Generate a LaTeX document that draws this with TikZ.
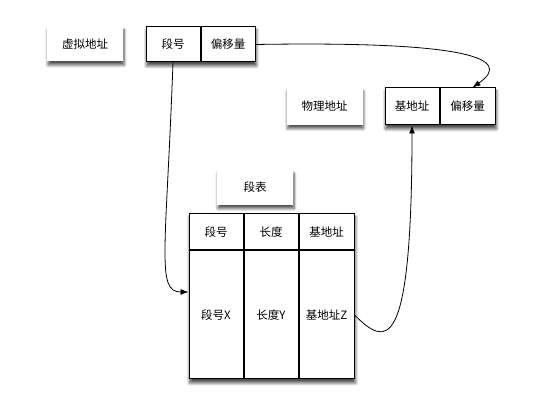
\documentclass[tikz,border=0pt]{standalone}
\usepackage{fontspec}
\newfontfamily\cjk{Noto Sans CJK SC}
\usepackage{tikz}
\usetikzlibrary{arrows.meta, positioning, fit, backgrounds, shadows.blur}

\begin{document}
\begin{tikzpicture}[x=1pt, y=1pt, font=\cjk\fontsize{11.5}{14}\selectfont,
  sh/.style={blur shadow={shadow xshift=1pt, shadow yshift=-3.5pt,
             shadow blur radius=3pt, shadow blur steps=6, shadow opacity=70}},
  lb/.style={rectangle, fill=white, minimum width=76pt, minimum height=35pt, sh},
  cl/.style={rectangle, draw=black, line width=1pt, fill=white,
             minimum width=54pt, minimum height=35pt, inner sep=1pt},
  fr/.style={rectangle, fill=white, inner sep=0pt, sh},
  ed/.style={-{Latex[length=8pt, width=6pt]}, line width=0.8pt}]
\useasboundingbox (0,0) rectangle (559,403);
% virtual address
\node[lb] (vaddr) at (85,359) {虚拟地址};
\node[cl] (vseg) at (173,358.5) {段号};
\node[cl, right=0pt of vseg] (voff) {偏移量};
% physical address
\node[lb, minimum height=37pt] (paddr) at (324.5,296.5) {物理地址};
\node[cl, minimum height=37pt] (pbase) at (412,296.5) {基地址};
\node[cl, minimum height=37pt, minimum width=55pt, right=0pt of pbase] (poff) {偏移量};
% segment table
\node[lb] (stab) at (255,215.5) {段表};
\node[cl, minimum height=36pt] (hseg) at (216,171) {段号};
\node[cl, minimum height=36pt, right=0pt of hseg] (hlen) {长度};
\node[cl, minimum height=36pt, minimum width=55pt, right=0pt of hlen] (hbase) {基地址};
\node[cl, minimum height=128pt, below=0pt of hseg] (tX) {段号X};
\node[cl, minimum height=128pt, below=0pt of hlen] (tY) {长度Y};
\node[cl, minimum height=128pt, minimum width=55pt, below=0pt of hbase] (tZ) {基地址Z};
\begin{scope}[on background layer]
  \node[fr, fit=(vseg)(voff)] {};
  \node[fr, fit=(pbase)(poff)] {};
  \node[fr, fit=(hseg)(tZ)] {};
\end{scope}
% connectors
\draw[ed] (vseg.south) .. controls (166,150) and (156,111) .. ([yshift=23pt]tX.west);
\draw[ed] (voff.east) .. controls (465,362) and (515,345) .. ([xshift=5pt]poff.north);
\draw[ed] (tZ.east) .. controls (385,58) and (412,43) .. (pbase.south);
\end{tikzpicture}
\end{document}
